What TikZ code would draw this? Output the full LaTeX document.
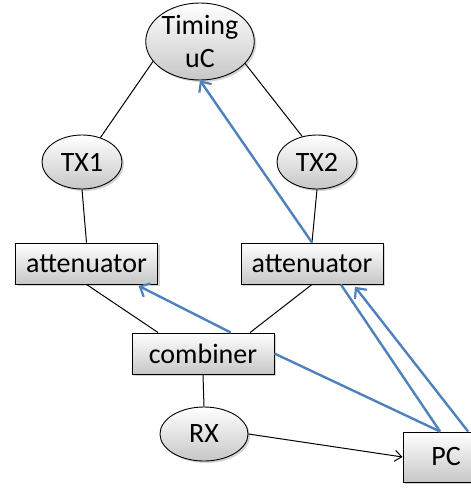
\documentclass[tikz,border=0pt]{standalone}
\usepackage{fontspec}
\setmainfont{Carlito}
\usetikzlibrary{shapes.geometric,arrows.meta,shadows}
\definecolor{ctrlblue}{RGB}{79,129,189}
\begin{document}
\begin{tikzpicture}[x=1pt, y=-1pt,
    every node/.style={font=\fontsize{28}{33}\selectfont},
    shaded/.style={draw=black, line width=0.9pt, top color=white, bottom color=black!22,
      drop shadow={opacity=0.35, shadow xshift=2pt, shadow yshift=-2pt}},
    unit/.style={shaded, ellipse, inner sep=0pt, minimum width=80, minimum height=54},
    block/.style={shaded, rectangle, inner sep=0pt, minimum width=142, minimum height=41},
    wire/.style={line width=1pt},
    ctrl/.style={line width=2.4pt, draw=ctrlblue},
    tip/.style={-{Straight Barb[length=8pt, width=15pt, line width=2.2pt]}}]
  \useasboundingbox (0,0) rectangle (471,491);
  % nodes
  \node[unit, align=center, minimum width=98, minimum height=77] (timing) at (200,41.5) {Timing\\uC};
  \node[unit] (tx1) at (82,162) {TX1};
  \node[unit] (tx2) at (317,162) {TX2};
  \node[block] (att1) at (86.5,263.5) {attenuator};
  \node[block] (att2) at (312,263.5) {attenuator};
  \node[block] (combiner) at (203,353.5) {combiner};
  \node[unit, minimum width=88] (rx) at (204,434) {RX};
  \node[block, minimum width=86, minimum height=50] (pc) at (446,457) {PC};
  % signal path
  \draw[wire] (timing.203) -- (tx1.53);
  \draw[wire] (timing.334) -- (tx2.120);
  \draw[wire] (tx1.south) -- (att1.north);
  \draw[wire] (tx2.south) -- (att2.north);
  \draw[wire] (att1.south) -- (combiner.155);
  \draw[wire] (att2.south) -- (combiner.24);
  \draw[wire] (combiner.south) -- (rx.north);
  \draw[wire, -{Straight Barb[length=7pt, width=11pt]}] (rx.east) -- (pc.west);
  % control lines
  \draw[ctrl, tip] (att2.north) -- (timing.south);
  \draw[ctrl, tip, shorten >=3pt] (combiner.37) -- (att1.337);
  \draw[ctrl] (combiner.east) -- (pc.103);
  \draw[ctrl] (pc.103) -- (att2.324);
  \draw[ctrl, tip, shorten >=3pt] (pc.49) -- (att2.333);
\end{tikzpicture}
\end{document}
